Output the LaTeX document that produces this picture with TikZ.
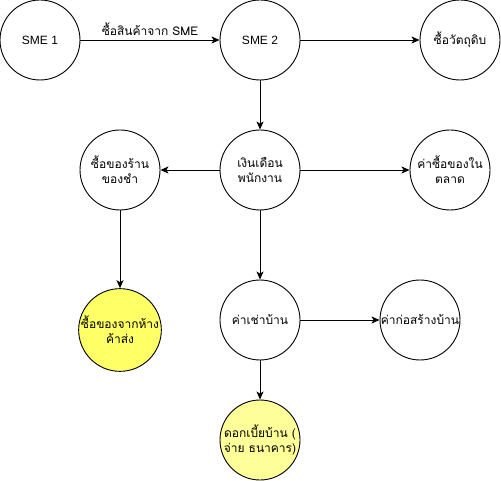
\documentclass[tikz,border=0pt]{standalone}
\usepackage{fontspec}
\setmainfont{Liberation Sans}
\newfontfamily\thaifont[Script=Thai]{Loma}
\usetikzlibrary{arrows.meta}
\definecolor{yelA}{HTML}{FFFF66}
\definecolor{yelB}{HTML}{FFFF99}
\begin{document}
\begin{tikzpicture}[x=1pt,y=-1pt,
  circ/.style={circle,draw,line width=0.9pt,minimum size=80pt,inner sep=0pt,align=center,font=\fontsize{12}{15}\selectfont},
  conn/.style={line width=0.9pt,-{Stealth[length=8pt,width=7pt,inset=2pt]}}]
\useasboundingbox (0,0) rectangle (501,481);
\node[circ] (sme1) at (40,40) {SME 1};
\node[circ] (sme2) at (260,40) {SME 2};
\node[circ] (raw) at (460,40) {\thaifont ซื้อวัตถุดิบ};
\node[circ] (sal) at (260,170) {\thaifont เงินเดือน\\\thaifont พนักงาน};
\node[circ] (groc) at (120,170) {\thaifont ซื้อของร้าน\\\thaifont ของชำ};
\node[circ] (mkt) at (450,170) {\thaifont ค่าซื้อของใน\\\thaifont ตลาด};
\node[circ,fill=yelA] (whole) at (120,330) {\thaifont ซื้อของจากห้าง\\\thaifont ค้าส่ง};
\node[circ] (rent) at (260,320) {\thaifont ค่าเช่าบ้าน};
\node[circ] (build) at (420,320) {\thaifont ค่าก่อสร้างบ้าน};
\node[circ,fill=yelB] (intr) at (260,440) {\thaifont ดอกเบี้ยบ้าน (\\\thaifont จ่าย ธนาคาร)};
\draw[conn] (sme1) -- node[above=1pt,font=\fontsize{12}{15}\selectfont] {\thaifont ซื้อสินค้าจาก SME} (sme2);
\draw[conn] (sme2) -- (raw);
\draw[conn] (sme2) -- (sal);
\draw[conn] (sal) -- (groc);
\draw[conn] (sal) -- (mkt);
\draw[conn] (sal) -- (rent);
\draw[conn] (groc) -- (whole);
\draw[conn] (rent) -- (build);
\draw[conn] (rent) -- (intr);
\end{tikzpicture}
\end{document}
